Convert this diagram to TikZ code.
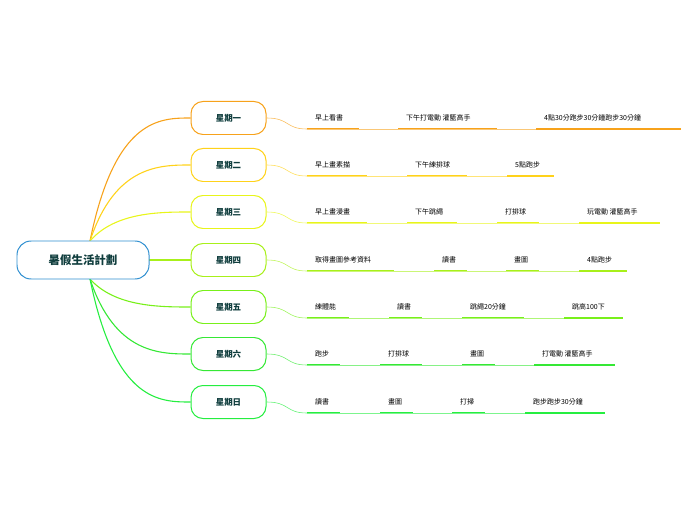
\documentclass[tikz,border=0pt]{standalone}
\usepackage{fontspec}
\setmainfont{Noto Sans CJK TC}
\usetikzlibrary{positioning}
\definecolor{rootblue}{HTML}{2F8FD0}
\definecolor{daytext}{HTML}{0F3D3D}
\definecolor{cA}{HTML}{F7A21B}
\definecolor{cB}{HTML}{FFD21A}
\definecolor{cC}{HTML}{E8F51A}
\definecolor{cD}{HTML}{A8F01A}
\definecolor{cE}{HTML}{78F01A}
\definecolor{cF}{HTML}{35E835}
\definecolor{cG}{HTML}{25EE40}
\tikzset{
  rootbox/.style={draw=rootblue,fill=white,line width=1pt,rounded corners=14bp,minimum width=132bp,minimum height=38bp,font=\bfseries\fontsize{11.5}{13}\selectfont,text=daytext},
  daybox/.style={draw=#1,fill=white,line width=1pt,rounded corners=12bp,minimum width=75bp,minimum height=33bp,font=\bfseries\fontsize{8.5}{10}\selectfont,text=daytext},
  leaf/.style={anchor=west,inner sep=0pt,font=\fontsize{7}{8}\selectfont,text=black},
}
\begin{document}
\begin{tikzpicture}[x=1bp,y=-1bp]
    \useasboundingbox (0,0) rectangle (696,520);
    \foreach \i/\yy/\c/\d in {1/118/cA/星期一,2/165/cB/星期二,3/212/cC/星期三,4/260/cD/星期四,5/307/cE/星期五,6/354/cF/星期六,7/402/cG/星期日} {
        \node[daybox=\c] (day\i) at (228.5,\yy) {\d};
        \coordinate (rs\i) at (90,{\yy<260 ? 241 : (\yy>260 ? 279 : 260)});
        \draw[\c,line width=1.1pt] (rs\i) .. controls (115,\yy) and (160,\yy) .. (day\i.west);
        \coordinate (ls\i) at (307,\yy+11);
        \draw[\c!70,line width=0.6pt] (day\i.east) .. controls (290,\yy) and (285,\yy+11) .. (ls\i);
    }
    \node[rootbox] (root) at (83,260) {暑假生活計劃};
    % rows of leaves: y/colour/x1/x2/text
    \foreach \i/\yl/\cn/\row in {
        1/129/cA/{307/359/早上看書,398/497/下午打電動 灌籃高手,536/681/4點30分跑步30分鐘跑步30分鐘},
        2/176/cB/{307/367/早上畫素描,407/467/下午練排球,507/554/5點跑步},
        3/223/cC/{307/367/早上畫漫畫,407/457/下午跳繩,497/539/打排球,579/660/玩電動 灌籃高手},
        4/271/cD/{307/394/取得畫圖參考資料,434/467/讀書,506/539/畫圖,579/627/4點跑步},
        5/318/cE/{307/349/練體能,389/422/讀書,462/524/跳繩20分鐘,564/623/跳高100下},
        6/365/cF/{307/340/跑步,380/422/打排球,462/495/畫圖,534/615/打電動 灌籃高手},
        7/413/cG/{307/340/讀書,380/413/畫圖,452/485/打掃,525/605/跑步跑步30分鐘}} {
        \foreach \xa/\xb/\t [count=\k] in \row {
            \coordinate (a\i\k) at (\xa,\yl);
            \coordinate (b\i\k) at (\xb,\yl);
            \node[leaf] (leaf\i\k) at (\xa+8,\yl-11) {\t};
            \draw[\cn!60,line width=0.5pt] (ls\i) -- (b\i\k);
            \draw[\cn,line width=2.2pt] (a\i\k) -- (b\i\k);
        }
    }
\end{tikzpicture}
\end{document}
